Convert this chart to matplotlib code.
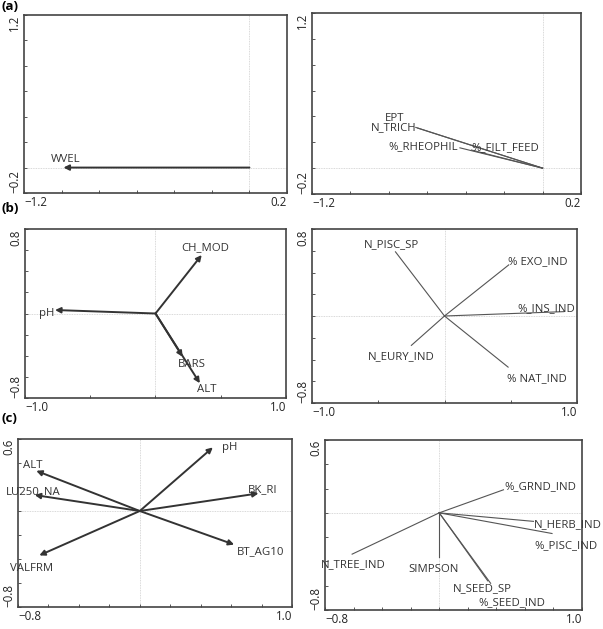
import matplotlib
matplotlib.use('Agg')
import matplotlib.pyplot as plt
import numpy as np

plt.rcParams['font.family'] = ['Open Sans', 'DejaVu Sans']

# (a) environmental vectors / biological metrics
a_env = ['WVEL']
a_env_x = [-0.99]
a_env_y = [0.0]
a_bio = ['EPT', 'N_TRICH', '%_RHEOPHIL', '%_FILT_FEED']
a_bio_x = [-0.66, -0.65, -0.43, -0.37]
a_bio_y = [0.315, 0.31, 0.157, 0.14]

# (b)
b_env = ['pH', 'CH_MOD', 'BARS', 'ALT']
b_env_x = [-0.77, 0.354, 0.208, 0.34]
b_env_y = [0.033, 0.554, -0.41, -0.66]
b_bio = ['N_PISC_SP', '% EXO_IND', '%_INS_IND', '% NAT_IND', 'N_EURY_IND']
b_bio_x = [-0.37, 0.485, 0.90, 0.48, -0.25]
b_bio_y = [0.59, 0.47, 0.04, -0.47, -0.27]

# (c)
c_env = ['pH', 'ALT', 'LU250_NA', 'VALFRM', 'BK_RI', 'BT_AG10']
c_env_x = [0.48, -0.68, -0.69, -0.66, 0.78, 0.62]
c_env_y = [0.53, 0.335, 0.133, -0.37, 0.147, -0.28]
c_bio = ['%_GRND_IND', 'N_HERB_IND', '%_PISC_IND', 'N_TREE_IND', 'SIMPSON', 'N_SEED_SP', '%_SEED_IND']
c_bio_x = [0.45, 0.66, 0.79, -0.61, 0.0, 0.34, 0.36]
c_bio_y = [0.19, -0.07, -0.17, -0.34, -0.36, -0.56, -0.58]

# label positions (data coords) and alignment
lab_a_env = [(-0.98, 0.065, 'center')]
lab_a_bio = [(-0.77, 0.385, 'center'), (-0.655, 0.31, 'right'),
             (-0.62, 0.17, 'center'), (-0.195, 0.155, 'center')]
lab_b_env = [(-0.83, 0.0, 'center'), (0.38, 0.62, 'center'),
             (0.28, -0.48, 'center'), (0.395, -0.72, 'center')]
lab_b_bio = [(-0.40, 0.66, 'center'), (0.70, 0.50, 'center'), (0.77, 0.065, 'center'),
             (0.70, -0.58, 'center'), (-0.33, -0.37, 'center')]
lab_c_env = [(0.54, 0.53, 'left'), (-0.70, 0.38, 'center'), (-0.70, 0.16, 'center'),
             (-0.71, -0.48, 'center'), (0.81, 0.18, 'center'), (0.795, -0.34, 'center')]
lab_c_bio = [(0.71, 0.22, 'center'), (0.90, -0.10, 'center'), (0.89, -0.27, 'center'),
             (-0.60, -0.43, 'center'), (-0.04, -0.47, 'center'), (0.30, -0.62, 'center'),
             (0.51, -0.74, 'center')]

W, H = 603, 629
fig = plt.figure(figsize=(W / 100, H / 100), dpi=100)


def make_ax(x0, y0, x1, y1):
    return fig.add_axes([x0 / W, 1 - y1 / H, (x1 - x0) / W, (y1 - y0) / H])


def style(ax, xlim, ylim, xstep, ystep, xfmt, yfmt):
    ax.set_xlim(xlim)
    ax.set_ylim(ylim)
    xt = np.arange(xlim[0], xlim[1] + xstep / 2, xstep)
    yt = np.arange(ylim[0], ylim[1] + ystep / 2, ystep)
    ax.set_xticks(xt)
    ax.set_yticks(yt)
    xl = [''] * len(xt)
    xl[0] = xfmt % xlim[0]
    xl[-1] = xfmt % xlim[1]
    yl = [''] * len(yt)
    yl[0] = yfmt % ylim[0]
    yl[-1] = yfmt % ylim[1]
    ax.set_xticklabels([s.replace('-', '\u2212') for s in xl])
    ax.set_yticklabels([s.replace('-', '\u2212') for s in yl], rotation=90)
    ax.tick_params(direction='in', length=2.5, width=0.7, color='#555555',
                   labelsize=8.3, labelcolor='#222222', pad=2)
    xlabs = ax.get_xticklabels()
    xlabs[0].set_ha('left')
    xlabs[-1].set_ha('right')
    ylabs = ax.get_yticklabels()
    ylabs[0].set_va('bottom')
    ylabs[-1].set_va('top')
    for s in ax.spines.values():
        s.set_color('#444444')
        s.set_linewidth(1.2)
    ax.axhline(0, color='#cccccc', lw=0.6, ls=(0, (1, 1)), zorder=0)
    ax.axvline(0, color='#cccccc', lw=0.6, ls=(0, (1, 1)), zorder=0)


def env_arrows(ax, xs, ys, names, labs):
    for x, y in zip(xs, ys):
        ax.annotate('', xy=(x, y), xytext=(0, 0),
                    arrowprops=dict(arrowstyle='-|>', color='#333333', lw=1.4,
                                    mutation_scale=8, shrinkA=0, shrinkB=0))
    for n, (lx, ly, ha) in zip(names, labs):
        ax.text(lx, ly, n, ha=ha, va='center', fontsize=8.2, color='#333333')


def bio_lines(ax, xs, ys, names, labs):
    for x, y in zip(xs, ys):
        ax.plot([0, x], [0, y], color='#555555', lw=0.8)
    for n, (lx, ly, ha) in zip(names, labs):
        ax.text(lx, ly, n, ha=ha, va='center', fontsize=8.2, color='#333333')


# (a)
ax1 = make_ax(24, 15, 287, 193)
style(ax1, (-1.2, 0.2), (-0.2, 1.2), 0.2, 0.2, '%.1f', '%.1f')
env_arrows(ax1, a_env_x, a_env_y, a_env, lab_a_env)
ax2 = make_ax(312, 13, 581, 194)
style(ax2, (-1.2, 0.2), (-0.2, 1.2), 0.2, 0.2, '%.1f', '%.1f')
bio_lines(ax2, a_bio_x, a_bio_y, a_bio, lab_a_bio)

# (b)
ax3 = make_ax(25, 229, 286, 398)
style(ax3, (-1.0, 1.0), (-0.8, 0.8), 0.5, 0.2, '%.1f', '%.1f')
env_arrows(ax3, b_env_x, b_env_y, b_env, lab_b_env)
ax4 = make_ax(312, 229, 577, 403)
style(ax4, (-1.0, 1.0), (-0.8, 0.8), 0.5, 0.2, '%.1f', '%.1f')
bio_lines(ax4, b_bio_x, b_bio_y, b_bio, lab_b_bio)

# (c)
ax5 = make_ax(18, 439, 292, 607)
style(ax5, (-0.8, 1.0), (-0.8, 0.6), 0.2, 0.2, '%.1f', '%.1f')
env_arrows(ax5, c_env_x, c_env_y, c_env, lab_c_env)
ax6 = make_ax(325, 440, 582, 610)
style(ax6, (-0.8, 1.0), (-0.8, 0.6), 0.2, 0.2, '%.1f', '%.1f')
bio_lines(ax6, c_bio_x, c_bio_y, c_bio, lab_c_bio)

for lab, yy in [('(a)', 6), ('(b)', 209), ('(c)', 418)]:
    fig.text(2 / W, 1 - yy / H, lab, fontsize=9.5, fontweight='bold', va='center', ha='left')

fig.savefig('out.png', dpi=100)
